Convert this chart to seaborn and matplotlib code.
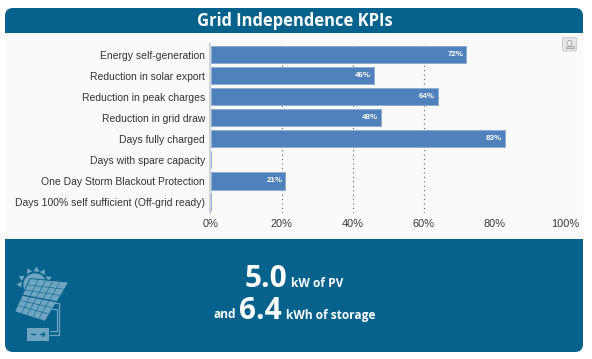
import matplotlib
matplotlib.use("Agg")
import matplotlib.pyplot as plt
from matplotlib.patches import FancyBboxPatch, Rectangle, Polygon, Circle
import numpy as np
import pandas as pd
import seaborn as sns

categories = ["Energy self-generation", "Reduction in solar export", "Reduction in peak charges",
              "Reduction in grid draw", "Days fully charged", "Days with spare capacity",
              "One Day Storm Blackout Protection", "Days 100% self sufficient (Off-grid ready)"]
values = [72, 46, 64, 48, 83, 0, 21, 0]
ticks = [0, 20, 40, 60, 80, 100]
title = "Grid Independence KPIs"

DARK = "#05628c"
BAR = "#4f81bd"
W, H = 592, 359
sns.set_theme(style="white")
plt.rcParams["font.family"] = ["Liberation Sans", "DejaVu Sans"]
fig = plt.figure(figsize=(W / 100, H / 100), dpi=100, facecolor="white")

bg = fig.add_axes([0, 0, 1, 1], zorder=0)
bg.set_xlim(0, W); bg.set_ylim(H, 0); bg.axis("off")
bg.add_patch(FancyBboxPatch((5 + 8, 8 + 8), 578 - 16, 344 - 16, boxstyle="round,pad=8,rounding_size=8",
                            fc=DARK, ec="none"))
bg.add_patch(Rectangle((5, 33), 578, 206, fc="#fafafa", ec="none"))
bg.text(294.5, 21.5, title, color="white", ha="center", va="center", family="Open Sans",
        weight="bold", fontsize=11.9)

# chart
L, R, T, B = 211, 565.5, 44, 212.5
ax = fig.add_axes([L / W, 1 - B / H, (R - L) / W, (B - T) / H], zorder=1)
ax.patch.set_alpha(0)
df = pd.DataFrame({"category": categories, "value": values})
sns.barplot(data=df, y="category", x="value", orient="h", color=BAR, saturation=1, width=0.82,
            edgecolor="#8fadd2", linewidth=0.7, ax=ax, zorder=3)
ax.set_xlim(0, 100)
ax.set_xticks(ticks)
ax.set_xticklabels([f"{t}%" for t in ticks], fontsize=7.9, color="#3a3a3a")
ax.tick_params(axis="x", length=0, pad=5)
ax.tick_params(axis="y", length=0, pad=3.6, labelsize=7.5, labelcolor="#333333")
ax.set_xlabel(""); ax.set_ylabel("")
ax.xaxis.grid(True, linestyle=(0, (1, 3)), color="#666666", linewidth=0.8)
ax.yaxis.grid(False)
ax.set_axisbelow(True)
for s in ["top", "right", "bottom"]:
    ax.spines[s].set_visible(False)
ax.spines["left"].set_color("#cfd2d6")
ax.spines["left"].set_linewidth(1.5)
ax.spines["left"].set_position(("outward", 0.7))
gl = ax.xaxis.get_gridlines()
for idx in (0, 4, 5):
    gl[idx].set_visible(False)
for i, v in enumerate(values):
    ax.text(v + (-0.8 if v else 0.8), i, f"{v}%", ha="right" if v else "left", va="center",
            fontsize=5.8, weight="bold", color="white", alpha=1 if v else 0.35, zorder=5)

# foreground (export button, summary, icon)
fg = fig.add_axes([0, 0, 1, 1], zorder=2)
fg.set_xlim(0, W); fg.set_ylim(H, 0); fg.axis("off")
fg.add_patch(FancyBboxPatch((563, 38), 13, 12.5, boxstyle="round,pad=0.5,rounding_size=2",
                            fc="#e6e6e6", ec="#cfcfcf", lw=0.8))
fg.add_patch(Rectangle((565.5, 46), 8.5, 2.2, fc="#d5d5d5", ec="#a5a5a5", lw=0.6))
fg.add_patch(Polygon([(568.5, 40.5), (571, 40.5), (571, 43.5), (572.6, 43.5), (569.8, 47), (567, 43.5)],
                     fc="#f6f6f6", ec="#a5a5a5", lw=0.6))

def txt(x, y, s, size):
    fg.text(x, y, s, color="white", family="Open Sans", weight="bold", fontsize=size,
            ha="left", va="baseline")

txt(245, 286.7, "5.0", 21.5)
txt(291, 287, "kW of PV", 8.6)
txt(213.5, 318.5, "and", 8.6)
txt(239, 319, "6.4", 21.5)
txt(285.5, 318.5, "kWh of storage", 8.6)

ICON = "#6fa5bf"
z = lambda x, y: (x / 3, 235 + y / 3)
cx, cy = z(105, 150)
fg.add_patch(Circle((cx, cy), 11.7, fc=ICON, ec="none"))
for a in np.radians([182, 209, 246, 276, 302, 334]):
    d = np.array([np.cos(a), np.sin(a)])
    n = np.array([-d[1], d[0]])
    c = np.array([cx, cy])
    fg.add_patch(Polygon([c + d * 18.5, c + d * 13.5 + n * 3, c + d * 13.5 - n * 3], fc=ICON, ec="none"))
TL, TR, BR, BL = [np.array(z(*p)) for p in [(92, 134), (201, 144), (134, 255), (48, 228)]]
fg.add_patch(Polygon([TL, TR, BR, BL], fc=DARK, ec=DARK, lw=2.2, joinstyle="round"))
fg.add_patch(Polygon([TL, TR, BR, BL], fc=ICON, ec=ICON, lw=0.8))
for f in np.linspace(0, 1, 6)[1:-1]:
    fg.plot(*zip(TL + (TR - TL) * f, BL + (BR - BL) * f), color=DARK, lw=0.4)
for f in [1 / 6, 2 / 6, 0.5, 4 / 6, 5 / 6]:
    fg.plot(*zip(TL + (BL - TL) * f, TR + (BR - TR) * f), color=DARK, lw=0.9 if f == 0.5 else 0.4)
x0, y0 = z(80, 278); x1, y1 = z(147, 318)
fg.add_patch(Rectangle((x0, y0), x1 - x0, y1 - y0, fc=ICON, ec="none"))
fg.plot(*zip(z(92, 297), z(105, 297)), color=DARK, lw=1)
fg.plot(*zip(z(121, 297), z(134, 297)), color=DARK, lw=1)
fg.plot(*zip(z(127.5, 291), z(127.5, 303)), color=DARK, lw=1)
fg.plot(*zip(z(165, 203), z(178, 203), z(178, 300), z(150, 300)), color=ICON, lw=0.9)
fg.plot(*zip(z(155, 222), z(170, 222), z(170, 288), z(150, 288)), color=ICON, lw=0.9)

fig.savefig("out.png", dpi=100, facecolor="white")
